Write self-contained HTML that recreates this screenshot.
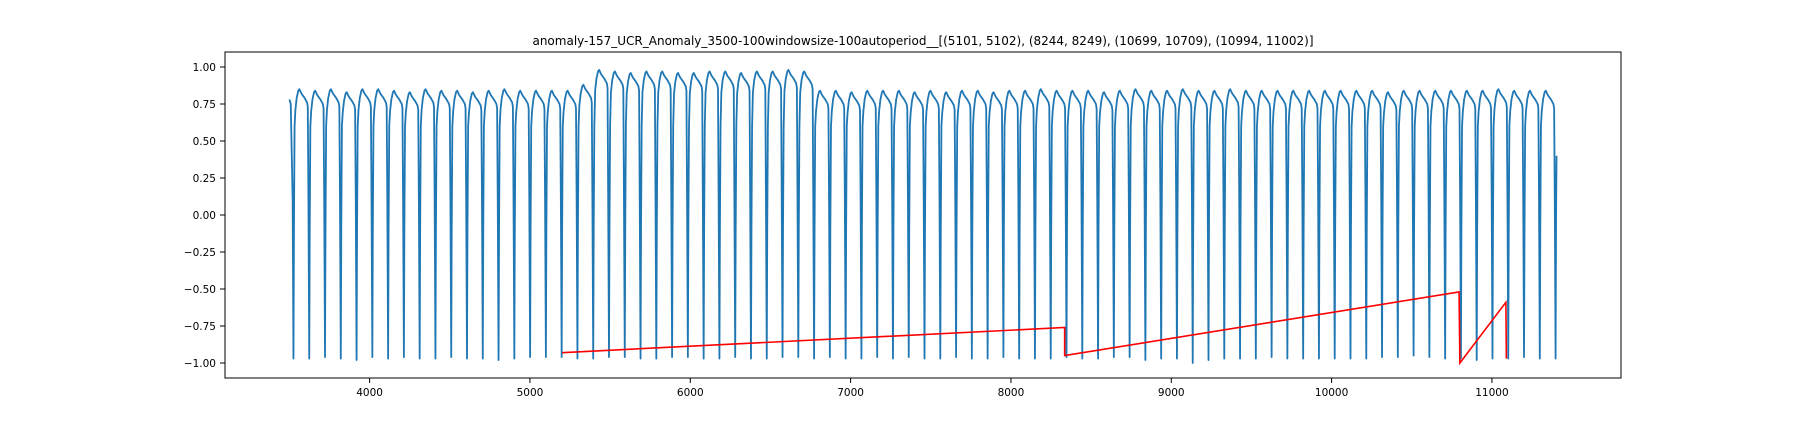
<!DOCTYPE html>
<html><head><meta charset="utf-8"><style>
html,body{margin:0;padding:0;background:#fff;}
svg{display:block;font-family:"DejaVu Sans","Liberation Sans",sans-serif;}
</style></head><body>
<svg id="chart" width="1800" height="432" viewBox="0 0 1800 432">
<rect x="0" y="0" width="1800" height="432" fill="#fff"/>
<text x="923" y="45" text-anchor="middle" font-size="12" fill="#000">anomaly-157_UCR_Anomaly_3500-100windowsize-100autoperiod__[(5101, 5102), (8244, 8249), (10699, 10709), (10994, 11002)]</text>
<g id="plot"></g>
<rect x="225" y="52" width="1396" height="326" fill="none" stroke="#000" stroke-width="1"/>
</svg>
<script>
// ---- data ----
const xTicks = [4000,5000,6000,7000,8000,9000,10000,11000];
const yTicks = [1.00,0.75,0.50,0.25,0.00,-0.25,-0.50,-0.75,-1.00];
const firstDip = 3525;
const period = 98.4;
const seriesStartX = 3500;
const seriesStartY = 0.78;
const seriesEndY = 0.40;
// peak value of each cycle following dip i
const peaks = [0.85,0.84,0.85,0.83,0.85,0.85,0.84,0.83,0.85,0.84,0.84,0.83,0.84,0.85,0.84,0.84,0.84,0.84,0.88,
0.98,0.97,0.96,0.97,0.97,0.96,0.96,0.97,0.97,0.96,0.97,0.97,0.98,0.97,
0.84,0.84,0.83,0.84,0.84,0.84,0.83,0.84,0.83,0.84,0.84,0.83,0.84,0.84,0.85,0.84,0.84,0.84,0.83,0.84,0.85,0.84,0.84,0.85,0.84,0.84,0.85,0.84,0.84,0.84,0.84,0.84,0.84,0.84,0.84,0.84,0.83,0.84,0.84,0.84,0.84,0.84,0.84,0.85,0.84,0.84,0.84];
// dip depth of each cycle
const troughs = [-0.97,-0.97,-0.96,-0.97,-0.98,-0.96,-0.97,-0.96,-0.97,-0.97,-0.96,-0.97,-0.97,-0.98,-0.97,-0.96,-0.96,-0.96,-0.97,
-0.97,-0.96,-0.96,-0.97,-0.97,-0.96,-0.96,-0.97,-0.97,-0.96,-0.97,-0.97,-0.96,-0.96,
-0.97,-0.96,-0.97,-0.97,-0.96,-0.97,-0.96,-0.97,-0.97,-0.96,-0.97,-0.97,-0.96,-0.97,-0.97,-0.97,-0.96,-0.97,-0.97,-0.96,-0.96,-0.98,-0.97,-0.97,-1.00,-0.98,-0.97,-0.97,-0.97,-0.96,-0.97,-0.97,-0.97,-0.97,-0.97,-0.97,-0.96,-0.96,-0.95,-0.96,-0.97,-0.97,-0.98,-0.97,-0.97,-0.96,-0.97];
const redX = [5200,8335,8335,10795,10800,11087,11090];
const redY = [-0.93,-0.76,-0.95,-0.52,-1.00,-0.59,-0.97];

// ---- axes ----
const X0 = 3098, X1 = 11805, PX0 = 225, PX1 = 1621;
const sx = v => PX0 + (v - X0) / (X1 - X0) * (PX1 - PX0);
const sy = v => 215 - v * 148;
const NS = 'http://www.w3.org/2000/svg';
const plot = document.getElementById('plot');
function mk(tag, attrs){const e=document.createElementNS(NS,tag);for(const k in attrs)e.setAttribute(k,attrs[k]);return e;}

xTicks.forEach(t=>{
  const x = sx(t);
  const l = mk('line',{x1:x,x2:x,y1:378,y2:383,stroke:'#000','stroke-width':1});
  
  
  plot.appendChild(l);
  const tx = mk('text',{x:x,y:396,'text-anchor':'middle','font-size':10.5,fill:'#000'});
  
  
  tx.textContent = t;
  plot.appendChild(tx);
});
yTicks.forEach(t=>{
  const y = sy(t);
  const l = mk('line',{x1:220,x2:225,y1:y,y2:y,stroke:'#000','stroke-width':1});
  
  
  plot.appendChild(l);
  const tx = mk('text',{x:216,y:y+4,'text-anchor':'end','font-size':10.5,fill:'#000'});
  
  
  tx.textContent = (t<0?'\u2212':'') + Math.abs(t).toFixed(2);
  plot.appendChild(tx);
});

// ---- series ----
let pts = [[seriesStartX, seriesStartY],[seriesStartX+8, seriesStartY-0.03]];
const n = peaks.length;
for (let i=0;i<n;i++){
  const d = firstDip + i*period;
  const p = (i===0) ? seriesStartY-0.03 : peaks[i-1];
  if (i>0) pts.push([d-9, p-0.12]);
  pts.push([d-5, 0.1]);
  pts.push([d, troughs[i]]);
  pts.push([d+3, -0.1]);
  pts.push([d+7, 0.6]);
  const q = peaks[i];
  pts.push([d+12, q-0.14]);
  pts.push([d+20, q-0.06]);
  pts.push([d+30, q-0.01]);
  pts.push([d+37, q]);
  pts.push([d+50, q-0.03]);
  pts.push([d+70, q-0.06]);
  pts.push([d+85, q-0.09]);
}
const lastDip = firstDip + n*period;
pts.push([lastDip-9, peaks[n-1]-0.12]);
pts.push([lastDip-5, 0.1]);
pts.push([lastDip, troughs[n-1]]);
pts.push([lastDip+3, 0.0]);
pts.push([lastDip+6, seriesEndY]);
const series = mk('polyline',{points:pts.map(p=>sx(p[0]).toFixed(2)+','+sy(p[1]).toFixed(2)).join(' '),fill:'none',stroke:'#1f77b4','stroke-width':1.8,'stroke-linejoin':'round'});


plot.appendChild(series);

const red = mk('polyline',{points:redX.map((x,i)=>sx(x).toFixed(2)+','+sy(redY[i]).toFixed(2)).join(' '),fill:'none',stroke:'#ff0000','stroke-width':1.6});


plot.appendChild(red);
</script>
</body></html>
